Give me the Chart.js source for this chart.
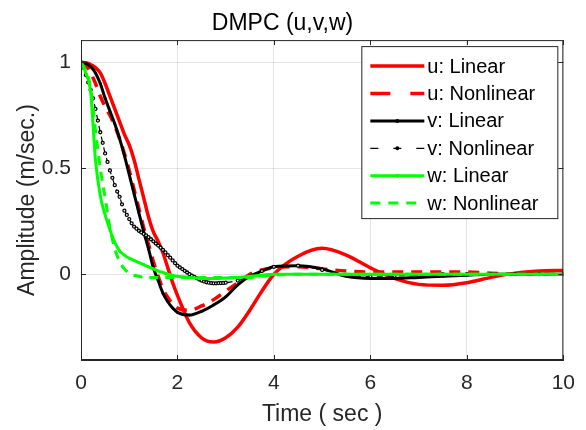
<!DOCTYPE html>
<html>
<head>
<meta charset="utf-8">
<script src="https://cdn.jsdelivr.net/npm/chart.js@4.4.1/dist/chart.umd.min.js"></script>
<style>
  html, body { margin: 0; padding: 0; background: #fff; }
  #wrap { width: 586px; height: 430px; }
</style>
</head>
<body>
<div id="wrap"><canvas id="dmpcChart" width="586" height="430"></canvas></div>
<script>
// time samples (sec)
const t = [0, 0.1, 0.2, 0.3, 0.4, 0.5, 0.6, 0.7, 0.8, 0.9,
  1.0, 1.1, 1.2, 1.3, 1.4, 1.5, 1.6, 1.7, 1.8, 1.9,
  2.0, 2.25, 2.5, 2.75, 3.0, 3.25, 3.5, 3.75, 4.0,
  4.5, 5.0, 5.5, 6.0, 6.5, 7.0, 7.5, 8.0, 8.5, 9.0, 9.5, 10];

// denser samples for the dotted v nonlinear trace
const tv = [0, 0.05, 0.1, 0.15, 0.2, 0.25, 0.3, 0.35, 0.4, 0.45,
  0.5, 0.55, 0.6, 0.65, 0.7, 0.75, 0.8, 0.85, 0.9, 0.95,
  1.0, 1.05, 1.1, 1.15, 1.2, 1.25, 1.3, 1.35, 1.4, 1.45,
  1.5, 1.55, 1.6, 1.65, 1.7, 1.75, 1.8, 1.85, 1.9, 1.95,
  2.0, 2.05, 2.1, 2.15, 2.2, 2.25, 2.3, 2.35, 2.4, 2.45,
  2.5, 2.55, 2.6, 2.65, 2.7, 2.75, 2.8, 2.85, 2.9, 2.95,
  3.0, 3.25, 3.5, 3.75, 4.0, 4.5, 5.0, 5.5, 6.0, 6.5,
  7.0, 7.5, 8.0, 8.5, 9.0, 9.5, 10];

const uLinear = [1, 0.998, 0.99, 0.975, 0.95, 0.9, 0.84, 0.78, 0.72, 0.66,
  0.61, 0.54, 0.45, 0.36, 0.27, 0.2, 0.155, 0.1, 0.03, -0.04,
  -0.1, -0.23, -0.3, -0.32, -0.3, -0.25, -0.17, -0.08, 0.0,
  0.085, 0.122, 0.09, 0.03, -0.02, -0.048, -0.052, -0.04, -0.015, 0.005, 0.015, 0.018];

const uNonlinear = [1, 0.985, 0.95, 0.9, 0.84, 0.79, 0.75, 0.7, 0.64, 0.57,
  0.49, 0.4, 0.31, 0.22, 0.14, 0.06, -0.01, -0.07, -0.11, -0.14,
  -0.16, -0.17, -0.15, -0.12, -0.08, -0.04, 0.0, 0.02, 0.03,
  0.035, 0.025, 0.015, 0.01, 0.01, 0.01, 0.01, 0.01, 0.005, 0, 0, 0];

const vLinear = [1, 0.995, 0.98, 0.95, 0.9, 0.83, 0.77, 0.71, 0.64, 0.56,
  0.47, 0.38, 0.29, 0.2, 0.12, 0.03, -0.03, -0.09, -0.13, -0.16,
  -0.18, -0.193, -0.175, -0.145, -0.107, -0.05, -0.01, 0.015, 0.035,
  0.04, 0.025, -0.01, -0.02, -0.02, -0.015, -0.01, -0.005, 0, 0, 0, 0];

const vNonlinear = [1, 0.975, 0.94, 0.905, 0.87, 0.83, 0.78, 0.725, 0.67, 0.62,
  0.57, 0.53, 0.49, 0.455, 0.42, 0.39, 0.365, 0.33, 0.3, 0.28,
  0.26, 0.24, 0.225, 0.215, 0.205, 0.197, 0.19, 0.183, 0.175, 0.165,
  0.155, 0.145, 0.135, 0.125, 0.115, 0.103, 0.09, 0.078, 0.065, 0.052,
  0.04, 0.032, 0.024, 0.016, 0.008, 0.0, -0.007, -0.013, -0.019, -0.025,
  -0.03, -0.034, -0.038, -0.04, -0.042, -0.043, -0.043, -0.042, -0.042, -0.041,
  -0.04, -0.03, -0.01, 0.015, 0.035, 0.04, 0.02, -0.005, -0.01, -0.008,
  -0.005, 0, 0, 0, 0, 0, 0];

const wLinear = [1, 0.95, 0.86, 0.54, 0.37, 0.28, 0.21, 0.15, 0.11, 0.09,
  0.075, 0.065, 0.055, 0.045, 0.035, 0.025, 0.015, 0.008, 0.0, -0.005,
  -0.01, -0.015, -0.02, -0.02, -0.018, -0.015, -0.01, -0.005, 0,
  0, 0, 0, 0, 0, 0, 0, 0, 0, 0, 0, 0];

const wNonlinear = [1, 0.96, 0.88, 0.68, 0.5, 0.36, 0.22, 0.12, 0.06, 0.025,
  0.005, -0.005, -0.01, -0.015, -0.015, -0.015, -0.015, -0.015, -0.015, -0.015,
  -0.015, -0.015, -0.015, -0.015, -0.015, -0.015, -0.015, -0.01, -0.005,
  0, 0, 0, 0, 0, 0, 0, 0, 0, 0, 0, 0];

const xTicks = [0, 2, 4, 6, 8, 10];
const yTicks = [0, 0.5, 1];

const axisColor = '#262626';
const gridColor = 'rgba(0,0,0,0.1)';
Chart.defaults.font.family = '"Liberation Sans", Arial, sans-serif';

function pts(xs, ys) {
  return xs.map((x, i) => ({ x: x, y: ys[i] }));
}

// MATLAB-like box, inner tick marks and the legend box
const matlabBox = {
  id: 'matlabBox',
  afterDraw(chart) {
    const ctx = chart.ctx;
    const a = chart.chartArea;
    const sx = chart.scales.x, sy = chart.scales.y;
    ctx.save();
    ctx.strokeStyle = axisColor;
    ctx.lineWidth = 1;
    ctx.setLineDash([]);
    ctx.strokeRect(a.left + 0.5, a.top + 0.5, a.right - a.left - 1, a.bottom - a.top - 1);
    ctx.beginPath();
    xTicks.forEach(v => {
      const px = Math.round(sx.getPixelForValue(v)) + 0.5;
      ctx.moveTo(px, a.bottom); ctx.lineTo(px, a.bottom - 5);
      ctx.moveTo(px, a.top); ctx.lineTo(px, a.top + 5);
    });
    yTicks.forEach(v => {
      const py = Math.round(sy.getPixelForValue(v)) + 0.5;
      ctx.moveTo(a.left, py); ctx.lineTo(a.left + 5, py);
      ctx.moveTo(a.right, py); ctx.lineTo(a.right - 5, py);
    });
    ctx.stroke();

    // legend
    const bw = 196, bh = 172;
    const bx = a.right - 6 - bw, by = a.top + 6;
    ctx.fillStyle = '#fff';
    ctx.fillRect(bx, by, bw, bh);
    ctx.strokeRect(bx + 0.5, by + 0.5, bw, bh);
    ctx.font = '20px "Liberation Sans", Arial, sans-serif';
    ctx.textBaseline = 'middle';
    ctx.textAlign = 'left';
    chart.data.datasets.forEach((ds, i) => {
      const ry = by + 20 + i * 27.4;
      const x1 = bx + 9, x2 = bx + 63;
      ctx.strokeStyle = ds.borderColor;
      ctx.lineWidth = ds.borderWidth;
      ctx.setLineDash(ds.legendDash || ds.borderDash || []);
      ctx.beginPath();
      ctx.moveTo(x1, ry); ctx.lineTo(x2, ry);
      ctx.stroke();
      ctx.setLineDash([]);
      if (ds.pointRadius > 0) {
        ctx.fillStyle = ds.borderColor;
        ctx.beginPath();
        ctx.arc((x1 + x2) / 2, ry, 2, 0, Math.PI * 2);
        ctx.fill();
      }
      ctx.fillStyle = '#000';
      ctx.fillText(ds.label, bx + 66, ry + 1);
    });
    ctx.restore();
  }
};

const ctx = document.getElementById('dmpcChart').getContext('2d');
const dmpcChart = new Chart(ctx, {
  type: 'line',
  data: {
    datasets: [
      { label: 'u: Linear', data: pts(t, uLinear), borderColor: '#ff0000', borderWidth: 3.5,
        pointRadius: 0, order: 5 },
      { label: 'u: Nonlinear', data: pts(t, uNonlinear), borderColor: '#ff0000', borderWidth: 3.5,
        borderDash: [11, 8], legendDash: [20, 20], pointRadius: 0, order: 4 },
      { label: 'v: Linear', data: pts(t, vLinear), borderColor: '#000000', borderWidth: 3,
        pointRadius: 1.3, pointBackgroundColor: '#000', pointBorderWidth: 0, order: 3 },
      { label: 'v: Nonlinear', data: pts(tv, vNonlinear), borderColor: '#000000', borderWidth: 1.2,
        borderDash: [6, 5], legendDash: [8, 15, 8, 15, 8], pointRadius: 1.5, pointBackgroundColor: '#fff',
        pointBorderColor: '#000', pointBorderWidth: 1.3, order: 2 },
      { label: 'w: Linear', data: pts(t, wLinear), borderColor: '#00ff00', borderWidth: 3,
        pointRadius: 1.3, pointBackgroundColor: '#00ff00', pointBorderWidth: 0, order: 1 },
      { label: 'w: Nonlinear', data: pts(t, wNonlinear), borderColor: '#00ff00', borderWidth: 3,
        borderDash: [9, 7], legendDash: [10, 8], pointRadius: 0, order: 0 }
    ]
  },
  options: {
    responsive: false,
    animation: false,
    devicePixelRatio: 1,
    cubicInterpolationMode: 'monotone',
    layout: { padding: { left: 0, right: 21, top: 0, bottom: 0 } },
    plugins: {
      legend: { display: false },
      tooltip: { enabled: false },
      title: {
        display: true,
        text: 'DMPC (u,v,w)',
        color: '#000',
        font: { size: 23, weight: 'normal' },
        padding: { top: 9.5, bottom: 3 }
      }
    },
    scales: {
      x: {
        type: 'linear',
        min: 0,
        max: 10,
        afterBuildTicks: s => { s.ticks = xTicks.map(v => ({ value: v })); },
        afterFit: s => { s.height = 70; },
        ticks: { color: axisColor, font: { size: 21 }, padding: 11, maxRotation: 0,
          callback: v => String(v) },
        grid: { color: gridColor, drawTicks: false },
        border: { color: axisColor, width: 1 },
        title: {
          display: true,
          text: 'Time ( sec )',
          color: axisColor,
          font: { size: 23 },
          padding: { top: 0, bottom: 1.2 }
        }
      },
      y: {
        type: 'linear',
        min: -0.405,
        max: 1.105,
        afterBuildTicks: s => { s.ticks = yTicks.map(v => ({ value: v })); },
        afterFit: s => { s.width = 81; },
        ticks: { color: axisColor, font: { size: 21 }, padding: 10,
          callback: v => String(v) },
        grid: { color: gridColor, drawTicks: false },
        border: { color: axisColor, width: 1 },
        title: {
          display: true,
          text: 'Amplitude (m/sec.)',
          color: axisColor,
          font: { size: 23 },
          padding: { top: 13.7, bottom: 0 }
        }
      }
    }
  },
  plugins: [matlabBox]
});
</script>
</body>
</html>
